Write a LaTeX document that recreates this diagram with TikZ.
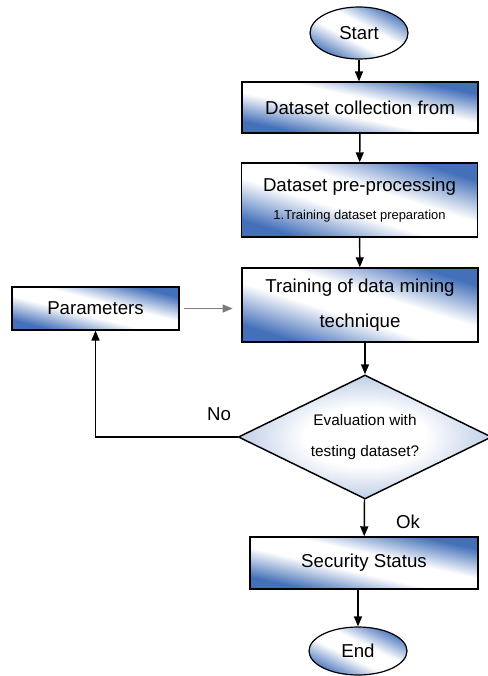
\documentclass[tikz,border=0pt]{standalone}
\usepackage{fontspec}
\setmainfont{Liberation Sans}
\usetikzlibrary{arrows.meta, shapes.geometric, fadings}

\definecolor{flowblue}{RGB}{68,112,186}
\definecolor{linkgray}{RGB}{125,125,125}

% white band across the middle, see-through towards two corners
\pgfdeclareverticalshading{bandmask}{100bp}{color(0bp)=(black); color(23bp)=(black);
  color(43bp)=(white); color(57bp)=(white); color(77bp)=(black); color(100bp)=(black)}
\pgfdeclarefading{whiteband}{\pgfuseshading{bandmask}}
% white centre, bluish towards the tips
\pgfdeclareradialshading{roundmask}{\pgfpoint{0bp}{0bp}}{color(0bp)=(white);
  color(12bp)=(white); color(50bp)=(black)}
\pgfdeclarefading{whitecentre}{\pgfuseshading{roundmask}}

\begin{document}
\begin{tikzpicture}[
  x=0.75pt, y=-0.75pt,
  blueshade/.style={preaction={fill=flowblue},
                    preaction={fill=white, path fading=whiteband, fading angle=-45}},
  roundshade/.style={preaction={fill=flowblue},
                     preaction={fill=white, path fading=whitecentre}},
  box/.style={draw, line width=1.1pt, blueshade, align=center, inner sep=2pt,
              minimum width=177pt, font=\fontsize{14}{17}\selectfont},
  term/.style={ellipse, draw, line width=0.9pt, blueshade, inner sep=0pt,
               minimum width=73.5pt, font=\fontsize{14}{17}\selectfont},
  decision/.style={diamond, draw, line width=1.1pt, roundshade, aspect=2, inner sep=0pt,
                   minimum width=190pt, minimum height=93pt, align=center,
                   font=\fontsize{11.5}{23}\selectfont},
  arr/.style={-{Triangle[length=7.5pt, width=6pt]}, line width=1.1pt},
  lbl/.style={font=\fontsize{14}{17}\selectfont}
]
  \useasboundingbox (0,0) rectangle (488,676);

  % Main flow
  \node[term, minimum height=39pt] (start) at (359,33) {Start};
  \node[box, minimum height=38pt] (collect) at (360,107.5) {Dataset collection from};
  \node[box, minimum height=55.5pt] (prep) at (359.5,200)
    {Dataset pre-processing\\[4pt]{\fontsize{9.7}{12}\selectfont 1.Training dataset preparation}};
  \node[box, minimum height=55.5pt] (train) at (360,305) {Training of data mining\\[9pt]technique};
  \node[decision] (eval) at (365,437) {Evaluation with\\testing dataset?};
  \node[box, minimum width=171pt, minimum height=39pt] (status) at (364,563) {Security Status};
  \node[term, minimum height=36pt] (end) at (358,651) {End};

  % Feedback
  \node[box, minimum width=125pt, minimum height=32pt] (params) at (95.5,308.5) {Parameters};

  % Arrows
  \draw[arr] (start) -- (start |- collect.north);
  \draw[arr] (collect) -- (prep);
  \draw[arr] (prep) -- (train);
  \draw[arr] (eval.north |- train.south) -- (eval.north);
  \draw[arr] (eval) -- (status) node[pos=0.6, right=20pt, lbl] {Ok};
  \draw[arr] (end.north |- status.south) -- (end.north);
  \draw[arr] (eval.west) -| (params.south) node[pos=0.065, above=8pt, lbl] {No};
  \draw[arr, linkgray, line width=0.9pt, shorten <=3pt, shorten >=6.5pt]
    (params.east) -- (params.east -| train.west);
\end{tikzpicture}
\end{document}
